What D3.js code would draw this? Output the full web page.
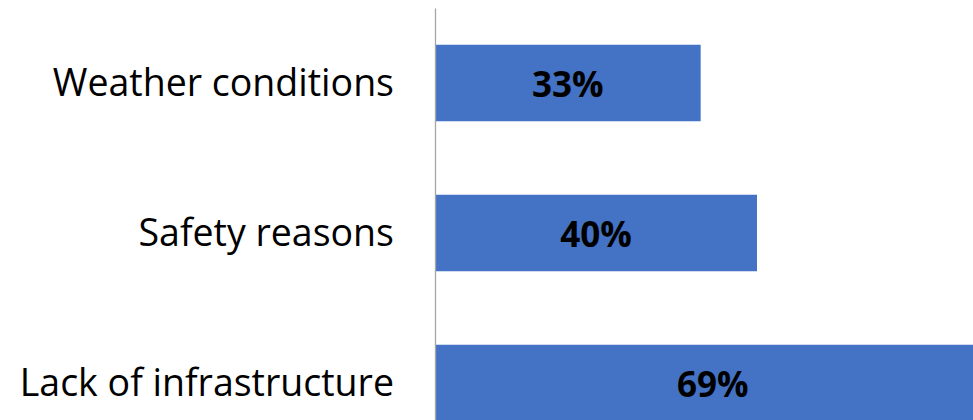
<!DOCTYPE html>
<html>
<head>
<meta charset="utf-8">
<script src="https://cdn.jsdelivr.net/npm/d3@7"></script>
<style>
  body { margin: 0; background: #fff; }
  svg { display: block; }
  .axis path { stroke: #a6a6a6; }
  .axis text { font-family: "Open Sans", sans-serif; font-size: 37.5px; fill: #000; }
  .val { font-family: "Open Sans", sans-serif; font-size: 35px; font-weight: bold; fill: #000; }
</style>
</head>
<body>
<svg id="chart"></svg>
<script>
// chart values
var categories = ["Weather conditions", "Safety reasons", "Lack of infrastructure"];
var values = [33, 40, 69];
var labels = ["33%", "40%", "69%"];

var width = 973, height = 420;

var svg = d3.select("#chart")
    .attr("width", width)
    .attr("height", height);

var x = d3.scaleLinear()
    .domain([0, 100])
    .range([435, 1240]);

var y = d3.scaleBand()
    .domain(categories)
    .range([8, 458])
    .paddingInner(0.49)
    .paddingOuter(0.245);

var data = categories.map(function(c, i) { return {cat: c, val: values[i], lab: labels[i]}; });

svg.append("g")
    .selectAll("rect")
    .data(data)
  .enter().append("rect")
    .attr("x", x(0))
    .attr("y", function(d) { return y(d.cat); })
    .attr("width", function(d) { return x(d.val) - x(0); })
    .attr("height", y.bandwidth())
    .attr("fill", "#4472c4");

svg.append("g")
    .selectAll("text")
    .data(data)
  .enter().append("text")
    .attr("class", "val")
    .attr("x", function(d) { return (x(0) + x(d.val)) / 2; })
    .attr("y", function(d) { return y(d.cat) + y.bandwidth() / 2; })
    .attr("text-anchor", "middle")
    .attr("dominant-baseline", "central")
    .text(function(d) { return d.lab; });

// category axis
var axis = svg.append("g")
    .attr("class", "axis")
    .attr("transform", "translate(" + x(0) + ",0)")
    .call(d3.axisLeft(y).tickSize(0).tickPadding(41).tickSizeOuter(0));
axis.select(".domain").attr("stroke-width", 1.3);
axis.selectAll("text").attr("dy", "0.35em");
</script>
</body>
</html>
